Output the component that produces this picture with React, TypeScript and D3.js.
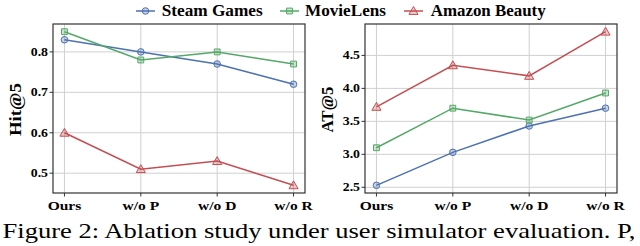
import React, { useEffect, useRef } from 'react'
import * as d3 from 'd3'

const variants = ['Ours', 'w/o P', 'w/o D', 'w/o R']
const datasets = ['Steam Games', 'MovieLens', 'Amazon Beauty']

const hitSteam = [0.83, 0.8, 0.77, 0.72]
const hitMovie = [0.85, 0.78, 0.8, 0.77]
const hitAmazon = [0.6, 0.51, 0.53, 0.47]

const atSteam = [2.53, 3.03, 3.43, 3.7]
const atMovie = [3.1, 3.7, 3.52, 3.93]
const atAmazon = [3.72, 4.35, 4.19, 4.86]

const hitTicks = [0.5, 0.6, 0.7, 0.8]
const atTicks = [2.5, 3.0, 3.5, 4.0, 4.5]

const colors = ['#4c72b0', '#55a868', '#c44e52']
const markers = ['circle', 'square', 'triangle']

const serif = '"Liberation Serif", "Times New Roman", serif'

const App = () => {
  const svgRef = useRef<SVGSVGElement>(null)

  useEffect(() => {
    const svg = d3.select(svgRef.current)
    svg.selectAll('*').remove()

    const drawMarker = (g: any, type: string, x: number, y: number, color: string) => {
      const sym =
        type === 'circle' ? d3.symbolCircle : type === 'square' ? d3.symbolSquare : d3.symbolTriangle
      const size = type === 'triangle' ? 36 : 34
      g.append('path')
        .attr('d', d3.symbol().type(sym).size(size)())
        .attr('transform', `translate(${x},${y + (type === 'triangle' ? 0.8 : 0)})`)
        .attr('fill', color)
        .attr('fill-opacity', 0.3)
        .attr('stroke', color)
        .attr('stroke-width', 1)
    }

    const panel = (
      left: number,
      right: number,
      series: number[][],
      ticks: number[],
      label: string,
      labelSpan: number
    ) => {
      const top = 24
      const bottom = 193
      const all = series.flat()
      const lo = d3.min(all) as number
      const hi = d3.max(all) as number
      const pad = (hi - lo) * 0.05
      const y = d3.scaleLinear().domain([lo - pad, hi + pad]).range([bottom, top])
      const x = d3.scaleLinear().domain([-0.15, 3.15]).range([left, right])
      const g = svg.append('g')

      // grid
      ticks.forEach(t => {
        g.append('line')
          .attr('x1', left).attr('x2', right)
          .attr('y1', y(t)).attr('y2', y(t))
          .attr('stroke', '#d0d0d0').attr('stroke-width', 1)
        g.append('line')
          .attr('x1', left - 3.5).attr('x2', left)
          .attr('y1', y(t)).attr('y2', y(t))
          .attr('stroke', '#333').attr('stroke-width', 1)
      })
      variants.forEach((v, i) => {
        g.append('line')
          .attr('x1', x(i)).attr('x2', x(i))
          .attr('y1', top).attr('y2', bottom)
          .attr('stroke', '#d0d0d0').attr('stroke-width', 1)
        g.append('line')
          .attr('x1', x(i)).attr('x2', x(i))
          .attr('y1', bottom).attr('y2', bottom + 3.5)
          .attr('stroke', '#333').attr('stroke-width', 1)
      })

      const line = d3.line<number>().x((d, i) => x(i)).y(d => y(d))
      series.forEach((s, k) => {
        g.append('path')
          .attr('d', line(s))
          .attr('fill', 'none')
          .attr('stroke', colors[k])
          .attr('stroke-width', 1.5)
        s.forEach((v, i) => drawMarker(g, markers[k], x(i), y(v), colors[k]))
      })

      g.append('rect')
        .attr('x', left).attr('y', top)
        .attr('width', right - left).attr('height', bottom - top)
        .attr('fill', 'none').attr('stroke', '#333').attr('stroke-width', 1.2)

      ticks.forEach(t => {
        g.append('text')
          .attr('transform', `translate(${left - 5},${y(t) + 4}) scale(1.2,1)`)
          .attr('text-anchor', 'end')
          .attr('font-family', serif).attr('font-weight', 'bold').attr('font-size', 11.5)
          .text(d3.format('.1f')(t))
      })
      variants.forEach((v, i) => {
        g.append('text')
          .attr('transform', `translate(${x(i)},${210}) scale(1.15,1)`)
          .attr('text-anchor', 'middle')
          .attr('font-family', serif).attr('font-weight', 'bold').attr('font-size', 13.5)
          .text(v)
      })
      g.append('text')
        .attr('transform', `translate(${left - 32},${(top + bottom) / 2 + 1}) rotate(-90)`)
        .attr('text-anchor', 'middle')
        .attr('font-family', serif).attr('font-weight', 'bold').attr('font-size', 16)
        .attr('textLength', labelSpan)
        .attr('lengthAdjust', 'spacingAndGlyphs')
        .text(label)
    }

    panel(53, 305, [hitSteam, hitMovie, hitAmazon], hitTicks, 'Hit@5', 53)
    panel(365, 617, [atSteam, atMovie, atAmazon], atTicks, 'AT@5', 46)

    // legend
    const legLine = [136, 280, 404]
    const legText = [161.7, 305, 430.7]
    const legWidth = [101, 81, 115]
    datasets.forEach((name, k) => {
      const lg = svg.append('g')
      lg.append('line')
        .attr('x1', legLine[k]).attr('x2', legLine[k] + 19)
        .attr('y1', 11).attr('y2', 11)
        .attr('stroke', colors[k]).attr('stroke-width', 1.5)
      drawMarker(lg, markers[k], legLine[k] + 9.5, 11, colors[k])
      lg.append('text')
        .attr('x', legText[k]).attr('y', 15.5)
        .attr('font-family', serif).attr('font-weight', 'bold').attr('font-size', 16)
        .attr('textLength', legWidth[k])
        .attr('lengthAdjust', 'spacingAndGlyphs')
        .text(name)
    })

    svg.append('text')
      .attr('x', 2.5).attr('y', 237.5)
      .attr('font-family', serif).attr('font-size', 22)
      .attr('textLength', 633)
      .attr('lengthAdjust', 'spacingAndGlyphs')
      .text('Figure 2: Ablation study under user simulator evaluation. P,')
  }, [])

  return (
    <svg
      ref={svgRef}
      width={640}
      height={246}
      style={{ position: 'absolute', left: 0, top: 0, background: '#fff' }}
    />
  )
}

export default App
